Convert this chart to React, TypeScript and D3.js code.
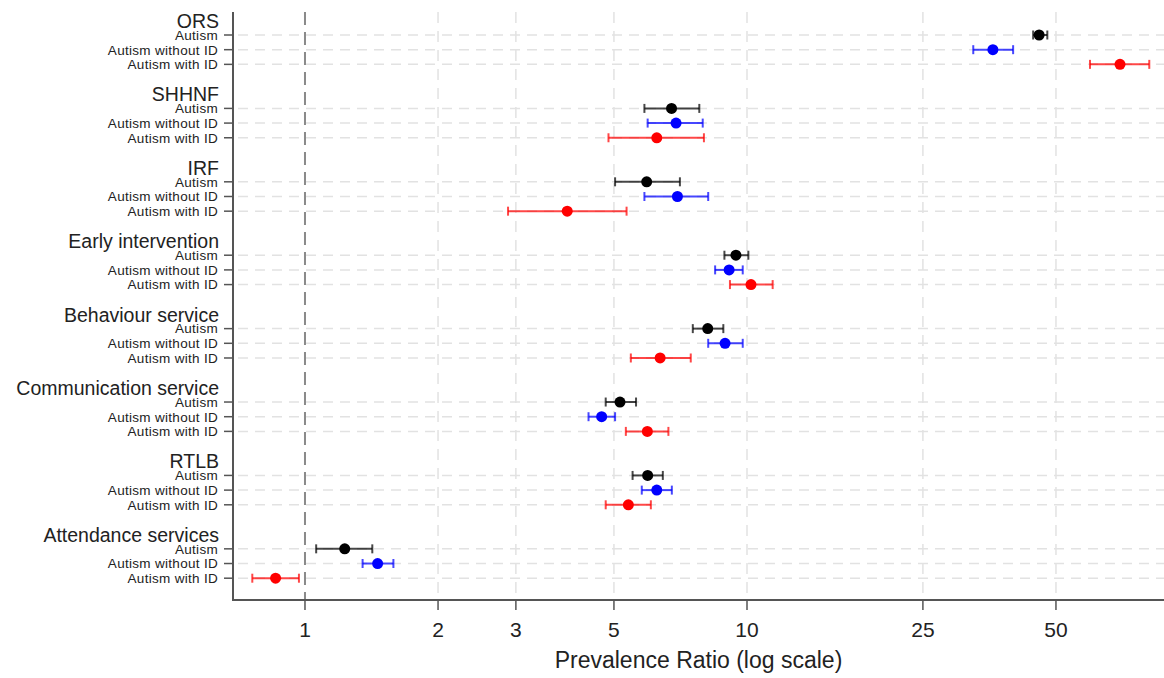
import React from "react";
import * as d3 from "d3";

const groups = [
  "ORS",
  "SHHNF",
  "IRF",
  "Early intervention",
  "Behaviour service",
  "Communication service",
  "RTLB",
  "Attendance services",
];
const subgroups = ["Autism", "Autism without ID", "Autism with ID"];
const subgroupColors = ["#000000", "#0000ff", "#ff0000"];

const autismPR = [45.8, 6.75, 5.93, 9.44, 8.15, 5.16, 5.96, 1.23];
const autismLo = [44.4, 5.86, 5.03, 8.89, 7.54, 4.79, 5.51, 1.06];
const autismHi = [47.8, 7.8, 7.05, 10.07, 8.84, 5.61, 6.45, 1.42];

const withoutIdPR = [36.0, 6.91, 6.96, 9.11, 8.92, 4.69, 6.25, 1.46];
const withoutIdLo = [32.5, 5.96, 5.86, 8.47, 8.17, 4.38, 5.78, 1.35];
const withoutIdHi = [40.0, 7.94, 8.17, 9.78, 9.78, 5.03, 6.76, 1.585];

const withIdPR = [69.8, 6.25, 3.92, 10.21, 6.36, 5.95, 5.39, 0.858];
const withIdLo = [59.7, 4.86, 2.88, 9.15, 5.46, 5.32, 4.79, 0.76];
const withIdHi = [81.3, 7.99, 5.34, 11.43, 7.46, 6.64, 6.06, 0.969];

const tickValues = [1, 2, 3, 5, 10, 25, 50];
const xTitle = "Prevalence Ratio (log scale)";

const W = 1164;
const H = 678;
const plotLeft = 233;
const plotRight = 1164;
const plotTop = 12;
const plotBottom = 600;
const ROWS_PER_GROUP = 5;

export default function App() {
  const x = d3.scaleLog().domain([0.6873, 87.78]).range([plotLeft, plotRight]);
  const lastIdx = (groups.length - 1) * ROWS_PER_GROUP + 2;
  const y = d3.scaleLinear().domain([0, lastIdx]).range([35, 578.2]);

  const series = [
    { pr: autismPR, lo: autismLo, hi: autismHi },
    { pr: withoutIdPR, lo: withoutIdLo, hi: withoutIdHi },
    { pr: withIdPR, lo: withIdLo, hi: withIdHi },
  ];

  const rows: { g: number; s: number; idx: number }[] = [];
  groups.forEach((_, g) => {
    subgroups.forEach((__, s) => {
      rows.push({ g, s, idx: g * ROWS_PER_GROUP + s });
    });
  });

  const font = "'Liberation Sans', Arial, Helvetica, sans-serif";
  const capH = 4.5;

  return (
    <svg
      width={W}
      height={H}
      style={{ position: "absolute", left: 0, top: 0, background: "#fff" }}
      fontFamily={font}
    >
      <rect x={0} y={0} width={W} height={H} fill="#fff" />
      {/* vertical gridlines */}
      {tickValues
        .filter((t) => t !== 1)
        .map((t) => (
          <line
            key={"vg" + t}
            x1={x(t)}
            x2={x(t)}
            y1={plotTop}
            y2={plotBottom}
            stroke="#e2e2e2"
            strokeWidth={1.5}
            strokeDasharray="11,8"
          />
        ))}
      {/* horizontal gridlines */}
      {rows.map((r) => (
        <line
          key={"hg" + r.idx}
          x1={plotLeft}
          x2={plotRight}
          y1={y(r.idx)}
          y2={y(r.idx)}
          stroke="#e2e2e2"
          strokeWidth={1.5}
          strokeDasharray="10,7"
          strokeDashoffset={-5}
        />
      ))}
      {/* reference line at 1 */}
      <line
        x1={x(1)}
        x2={x(1)}
        y1={plotTop}
        y2={plotBottom}
        stroke="#8a8a8a"
        strokeWidth={2}
        strokeDasharray="13,7"
      />
      {/* axes */}
      <line x1={plotLeft} x2={plotLeft} y1={plotTop} y2={plotBottom + 1} stroke="#555" strokeWidth={2} />
      <line x1={plotLeft - 1} x2={plotRight} y1={plotBottom} y2={plotBottom} stroke="#555" strokeWidth={2} />
      {/* y ticks and labels */}
      {rows.map((r) => (
        <g key={"yl" + r.idx}>
          <line
            x1={plotLeft - 9}
            x2={plotLeft}
            y1={y(r.idx)}
            y2={y(r.idx)}
            stroke="#555"
            strokeWidth={1.5}
          />
          <text
            x={218}
            y={y(r.idx)}
            dy="0.36em"
            textAnchor="end"
            fontSize={13.5}
            letterSpacing={0.3}
            fill="#222"
          >
            {subgroups[r.s]}
          </text>
        </g>
      ))}
      {groups.map((gname, g) => (
        <text
          key={"gh" + g}
          x={219}
          y={y(g * ROWS_PER_GROUP) - 7}
          textAnchor="end"
          fontSize={19.5}
          fill="#222"
        >
          {gname}
        </text>
      ))}
      {/* x ticks */}
      {tickValues.map((t) => (
        <g key={"xt" + t}>
          <line x1={x(t)} x2={x(t)} y1={plotBottom} y2={plotBottom + 10} stroke="#555" strokeWidth={1.5} />
          <text x={x(t)} y={637} textAnchor="middle" fontSize={21} fill="#222">
            {t}
          </text>
        </g>
      ))}
      <text
        x={(plotLeft + plotRight) / 2}
        y={668}
        textAnchor="middle"
        fontSize={23}
        fill="#222"
      >
        {xTitle}
      </text>
      {/* error bars and points */}
      {rows.map((r) => {
        const s = series[r.s];
        const col = subgroupColors[r.s];
        const yy = y(r.idx);
        const xl = x(s.lo[r.g]);
        const xh = x(s.hi[r.g]);
        return (
          <g key={"pt" + r.idx}>
            <g stroke={col} strokeOpacity={0.72} strokeWidth={2}>
              <line x1={xl} x2={xh} y1={yy} y2={yy} />
              <line x1={xl} x2={xl} y1={yy - capH} y2={yy + capH} />
              <line x1={xh} x2={xh} y1={yy - capH} y2={yy + capH} />
            </g>
            <circle cx={x(s.pr[r.g])} cy={yy} r={5.5} fill={col} />
          </g>
        );
      })}
    </svg>
  );
}
